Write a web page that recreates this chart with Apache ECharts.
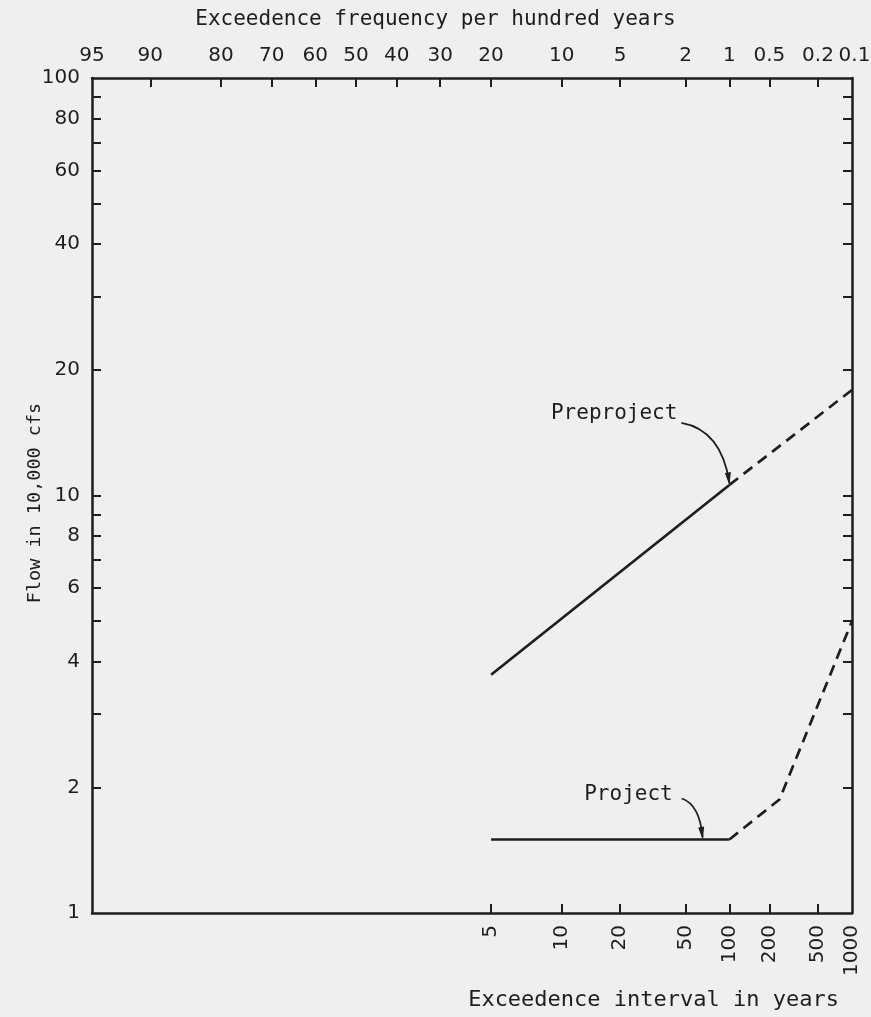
<!DOCTYPE html>
<html>
<head>
<meta charset="utf-8">
<script src="https://cdn.jsdelivr.net/npm/echarts@6/dist/echarts.min.js"></script>
<style>
html, body { margin: 0; padding: 0; background: #efefef; }
#chart { width: 871px; height: 1017px; }
</style>
</head>
<body>
<div id="chart"></div>
<script>
// top axis: exceedence frequency per hundred years
const freqTicks = [95, 90, 80, 70, 60, 50, 40, 30, 20, 10, 5, 2, 1, 0.5, 0.2, 0.1];
// bottom axis: exceedence interval in years
const intervalTicks = [5, 10, 20, 50, 100, 200, 500, 1000];
// left/right axis: flow in 10,000 cfs
const flowTicks = [1, 2, 3, 4, 5, 6, 7, 8, 9, 10, 20, 30, 40, 50, 60, 70, 80, 90, 100];
const flowLabels = [1, 2, 4, 6, 8, 10, 20, 40, 60, 80, 100];

// curves, [interval in years, flow]
const preprojectSolid = [[5, 3.72], [100, 10.6]];
const preprojectDashed = [[100, 10.6], [1000, 17.9]];
const projectSolid = [[5, 1.5], [100, 1.5]];
const projectDashed = [[100, 1.5], [240, 1.87], [1000, 5.0]];

const INK = '#1e1e1e';
const FONT = 'DejaVu Sans';
const MONO = 'DejaVu Sans Mono';

// inverse normal cdf (Acklam)
function normInv(p) {
    const a = [-39.69683028665376, 220.9460984245205, -275.9285104469687, 138.3577518672690, -30.66479806614716, 2.506628277459239];
    const b = [-54.47609879822406, 161.5858368580409, -155.6989798598866, 66.80131188771972, -13.28068155288572];
    const c = [-0.007784894002430293, -0.3223964580411365, -2.400758277161838, -2.549732539343734, 4.374664141464968, 2.938163982698783];
    const d = [0.007784695709041462, 0.3224671290700398, 2.445134137142996, 3.754408661907416];
    const pl = 0.02425, ph = 1 - pl;
    let q, r;
    if (p < pl) {
        q = Math.sqrt(-2 * Math.log(p));
        return (((((c[0]*q+c[1])*q+c[2])*q+c[3])*q+c[4])*q+c[5]) / ((((d[0]*q+d[1])*q+d[2])*q+d[3])*q+1);
    }
    if (p <= ph) {
        q = p - 0.5; r = q * q;
        return (((((a[0]*r+a[1])*r+a[2])*r+a[3])*r+a[4])*r+a[5])*q / (((((b[0]*r+b[1])*r+b[2])*r+b[3])*r+b[4])*r+1);
    }
    q = Math.sqrt(-2 * Math.log(1 - p));
    return -(((((c[0]*q+c[1])*q+c[2])*q+c[3])*q+c[4])*q+c[5]) / ((((d[0]*q+d[1])*q+d[2])*q+d[3])*q+1);
}
// probability paper scale
const zFreq = f => normInv(1 - f / 100);
const zYears = t => normInv(1 - 1 / t);
const toXY = pts => pts.map(p => [zYears(p[0]), Math.log10(p[1])]);

const freqZ = freqTicks.map(zFreq);
const intervalZ = intervalTicks.map(zYears);
const flowTickL = flowTicks.map(v => Math.log10(v));
const flowLabelL = flowLabels.map(v => Math.log10(v));
const xMin = zFreq(95), xMax = zFreq(0.1);

function lookup(v, keys, names) {
    for (let i = 0; i < keys.length; i++) {
        if (Math.abs(keys[i] - v) < 1e-6) return String(names[i]);
    }
    return '';
}

const chart = echarts.init(document.getElementById('chart'));

const axisLine = { show: true, onZero: false, lineStyle: { color: INK, width: 2.5 } };
const tickStyle = { show: true, inside: true, length: 9, lineStyle: { color: INK, width: 2 } };
const labelText = { color: INK, fontFamily: FONT, fontSize: 20 };

const lineSeries = (data, dashed) => ({
    type: 'line',
    data: toXY(data),
    symbol: 'none',
    silent: true,
    lineStyle: { color: INK, width: 2.7, type: dashed ? [11, 7] : 'solid' }
});

chart.setOption({
    backgroundColor: '#efefef',
    animation: false,
    grid: { left: 92, right: 19, top: 78, bottom: 104, outerBoundsMode: 'none', containLabel: false },
    xAxis: [{
        type: 'value', position: 'bottom', min: xMin, max: xMax,
        axisLine: axisLine,
        axisTick: Object.assign({}, tickStyle, { customValues: intervalZ.slice(0, -1) }),
        axisLabel: Object.assign({}, labelText, {
            customValues: intervalZ, rotate: 90, margin: 12,
            formatter: v => lookup(v, intervalZ, intervalTicks)
        }),
        splitLine: { show: false }
    }, {
        type: 'value', position: 'top', min: xMin, max: xMax,
        axisLine: axisLine,
        axisTick: Object.assign({}, tickStyle, { customValues: freqZ.slice(1, -1) }),
        axisLabel: Object.assign({}, labelText, {
            customValues: freqZ, margin: 12,
            formatter: v => {
                const s = lookup(v, freqZ, freqTicks);
                return s === '0.1' ? '{last|0.1}' : s;
            },
            rich: { last: { fontFamily: FONT, fontSize: 20, color: INK, padding: [0, 0, 0, 5] } }
        }),
        splitLine: { show: false }
    }],
    yAxis: [{
        type: 'value', position: 'left', min: 0, max: 2,
        axisLine: axisLine,
        axisTick: Object.assign({}, tickStyle, { customValues: flowTickL.slice(1, -1) }),
        axisLabel: Object.assign({}, labelText, {
            customValues: flowLabelL, margin: 12,
            formatter: v => lookup(v, flowLabelL, flowLabels)
        }),
        splitLine: { show: false }
    }, {
        type: 'value', position: 'right', min: 0, max: 2,
        axisLine: axisLine,
        axisTick: Object.assign({}, tickStyle, { customValues: flowTickL.slice(1, -1) }),
        axisLabel: { show: false },
        splitLine: { show: false }
    }],
    series: [
        lineSeries(preprojectSolid, false),
        lineSeries(preprojectDashed, true),
        lineSeries(projectSolid, false),
        lineSeries(projectDashed, true)
    ]
});

// annotations with curved arrows
const px = (t, f) => chart.convertToPixel({ xAxisIndex: 0, yAxisIndex: 0 }, [zYears(t), Math.log10(f)]);
const tipPre = px(100, 10.6);
const tipPro = px(65, 1.5);

function arrow(tip, sx, sy, cx, cy) {
    return [{
        type: 'bezierCurve',
        shape: { x1: tip[0] + sx, y1: tip[1] + sy, x2: tip[0], y2: tip[1] - 2, cpx1: tip[0] + cx, cpy1: tip[1] + cy },
        style: { stroke: INK, lineWidth: 1.8, fill: null }
    }, {
        type: 'polygon',
        shape: { points: [[tip[0], tip[1]], [tip[0] - 4.5, tip[1] - 12], [tip[0] + 1.5, tip[1] - 13]] },
        style: { fill: INK }
    }];
}

const titleStyle = { fill: INK, fontFamily: MONO, fontSize: 21 };

chart.setOption({
    graphic: [
        { type: 'text', left: 'center', top: 9, style: Object.assign({ text: 'Exceedence frequency per hundred years' }, titleStyle) },
        { type: 'text', x: 839, y: 1000, style: Object.assign({}, titleStyle, { text: 'Exceedence interval in years', fontSize: 22, align: 'right', verticalAlign: 'middle' }) },
        { type: 'text', x: 35, y: 503, rotation: Math.PI / 2, style: { text: 'Flow in 10,000 cfs', fill: INK, fontFamily: MONO, fontSize: 18.5, align: 'center', verticalAlign: 'middle' } },
        { type: 'text', x: tipPre[0] - 52, y: tipPre[1] - 71, style: Object.assign({ text: 'Preproject', align: 'right', verticalAlign: 'middle' }, titleStyle) },
        { type: 'text', x: tipPro[0] - 30, y: tipPro[1] - 45, style: Object.assign({ text: 'Project', align: 'right', verticalAlign: 'middle' }, titleStyle) }
    ].concat(arrow(tipPre, -48, -62, -8, -55), arrow(tipPro, -21, -41, -3, -35))
});

window.addEventListener('resize', function () {
    chart.resize();
});
</script>
</body>
</html>
